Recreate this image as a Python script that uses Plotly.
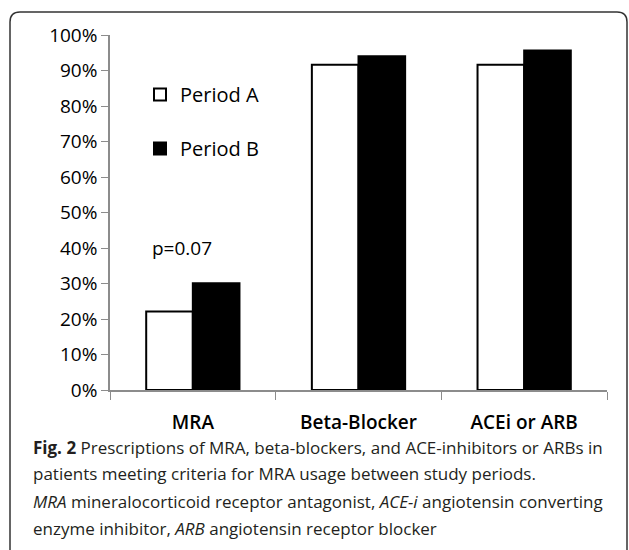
import plotly.graph_objects as go

categories = ["MRA", "Beta-Blocker", "ACEi or ARB"]
period_a = [0.221, 0.916, 0.916]
period_b = [0.301, 0.940, 0.956]
y_ticks = [0, 0.1, 0.2, 0.3, 0.4, 0.5, 0.6, 0.7, 0.8, 0.9, 1.0]
y_tick_labels = ["0%", "10%", "20%", "30%", "40%", "50%", "60%", "70%", "80%", "90%", "100%"]
p_value_text = "p=0.07"
caption_lines = [
    "<b>Fig. 2</b> Prescriptions of MRA, beta-blockers, and ACE-inhibitors or ARBs in",
    "patients meeting criteria for MRA usage between study periods.",
    "<i>MRA</i> mineralocorticoid receptor antagonist, <i>ACE-i</i> angiotensin converting",
    "enzyme inhibitor, <i>ARB</i> angiotensin receptor blocker",
]

W, H = 629, 550
L, R, T, B = 110, 22, 35, 160
plot_w = W - L - R
plot_h = H - T - B


def px_x(x):
    # pixel x -> paper x
    return (x - L) / plot_w


def px_y(y):
    # pixel y (from top) -> paper y
    return (H - B - y) / plot_h


fig = go.Figure()
fig.add_trace(go.Bar(x=categories, y=period_a, name="Period A", legendgroup="a",
                     marker=dict(color="white", line=dict(color="black", width=2))))
fig.add_trace(go.Bar(x=categories, y=period_b, name="Period B", legendgroup="b",
                     marker=dict(color="black", line=dict(color="black", width=2))))

fig.add_annotation(x=categories[0], y=0.40, text=p_value_text, showarrow=False,
                   xshift=-11, font=dict(size=19, color="black"))

for i, line in enumerate(caption_lines):
    fig.add_annotation(xref="paper", yref="paper", x=px_x(31), y=px_y(447 + i * 27),
                       xanchor="left", yanchor="middle", text=line, showarrow=False,
                       font=dict(size=17, color="#231f20"))

# rounded frame round the whole figure, open at the bottom
r = 10
x0, x1, y0, y1 = 10, 627, 12, 560
path = (f"M {px_x(x0)},{px_y(y1)} L {px_x(x0)},{px_y(y0 + r)} "
        f"Q {px_x(x0)},{px_y(y0)} {px_x(x0 + r)},{px_y(y0)} "
        f"L {px_x(x1 - r)},{px_y(y0)} Q {px_x(x1)},{px_y(y0)} {px_x(x1)},{px_y(y0 + r)} "
        f"L {px_x(x1)},{px_y(y1)}")
fig.add_shape(type="path", xref="paper", yref="paper", path=path,
              line=dict(color="#333333", width=1.5))

fig.update_layout(
    width=W, height=H, autosize=False,
    margin=dict(l=L, r=R, t=T, b=B),
    paper_bgcolor="white", plot_bgcolor="white",
    barmode="group", bargap=0.437, bargroupgap=0,
    font=dict(family="Open Sans", color="black"),
    legend=dict(x=px_x(140), y=px_y(75), xanchor="left", yanchor="top",
                font=dict(size=20), tracegroupgap=25, bgcolor="rgba(0,0,0,0)"),
    showlegend=True,
)
fig.update_xaxes(showline=True, linecolor="#8c8c8c", linewidth=1.5,
                 ticks="outside", tickson="boundaries", ticklen=8, tickcolor="#8c8c8c",
                 ticklabelstandoff=14,
                 tickfont=dict(size=19, weight=600), showgrid=False, fixedrange=True)
fig.update_yaxes(range=[0, 1], tickvals=y_ticks, ticktext=y_tick_labels,
                 showline=True, linecolor="#8c8c8c", linewidth=1.5,
                 ticks="outside", ticklen=7, tickcolor="#8c8c8c",
                 tickfont=dict(size=19), showgrid=False, zeroline=False, fixedrange=True)

# page body has a default margin; drop it so the figure sits at the window corner
fig.write_html("out.html", config={"displayModeBar": False},
               post_script="document.body.style.margin = '0';")
